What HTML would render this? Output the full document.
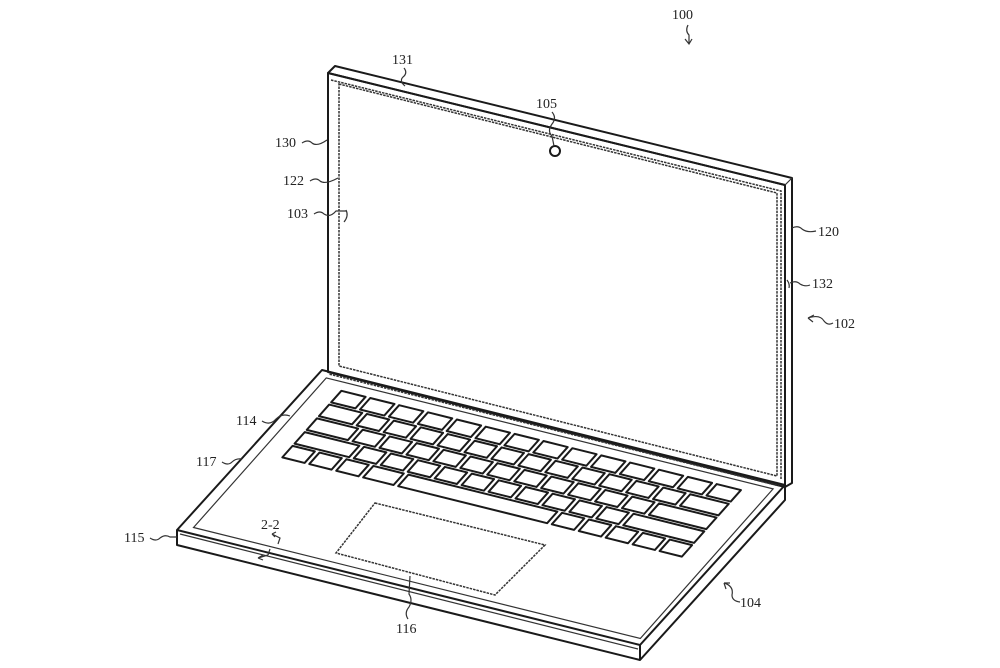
<!DOCTYPE html>
<html><head><meta charset="utf-8"><style>
html,body{margin:0;padding:0;background:#fff}
svg{display:block}
text{font-family:"Liberation Serif",serif;font-size:14px;fill:#222}
.l{fill:none;stroke:#1a1a1a;stroke-width:2;stroke-linejoin:round}
.k{fill:#fff;stroke:#1a1a1a;stroke-width:2;stroke-linejoin:round}
.t{fill:none;stroke:#333;stroke-width:1.2}
.d{fill:none;stroke:#333;stroke-width:1.5;stroke-dasharray:2.5 1}
.n{vector-effect:non-scaling-stroke}
</style></head><body>
<svg width="1000" height="668" viewBox="0 0 1000 668" xmlns="http://www.w3.org/2000/svg">
<!-- Lid -->
<polygon class="l" points="328,73 335,66 792,178 792,483 785,487 785,185"/>
<polygon class="l" points="328,73 785,185 785,487 328,372" fill="#fff"/>
<line class="t" x1="785" y1="185" x2="792" y2="178"/>
<!-- inner screen -->
<polygon class="d" points="339,84 777,193 777,476 339,366"/>
<polyline class="d" points="331,80 781,191 781,480"/>
<circle cx="555" cy="151" r="5" class="l" fill="#fff"/>

<!-- Base -->
<polygon class="l" fill="#fff" points="177,530 322,370 785,485 785,500 640,660 177,545"/>
<polyline class="l" points="177,530 640,645 785,485"/>
<line class="l" x1="640" y1="645" x2="640" y2="660"/>
<polyline class="t" points="180,534 638,649"/>
<g transform="matrix(463,115,-142,160,322,370)">
  <polygon class="t n" points="0.02,0.035 0.985,0.035 0.985,0.97 0.02,0.97"/>
  <polyline class="d n" points="0.02,0.012 0.99,0.012"/>
  <g id="kb"></g>
</g>
<!-- trackpad -->
<polygon class="d" points="375,503 545,545 495,595 336,553"/>

<!-- labels -->
<text x="672" y="19">100</text>
<path class="t" d="M688,25 q-3,6 1,10 l0,8 M685,39 l4,5 l3,-5"/>
<text x="392" y="64">131</text>
<path class="t" d="M404,68 q4,5 -1,9 q-4,4 2,9"/>
<text x="536" y="108">105</text>
<path class="t" d="M552,112 q5,6 0,12 q-5,7 0,12 l2,10"/>
<text x="275" y="147">130</text>
<path class="t" d="M302,143 q6,-4 10,0 q5,4 15,-3"/>
<text x="283" y="185">122</text>
<path class="t" d="M310,181 q6,-4 10,0 q5,4 18,-3"/>
<text x="287" y="218">103</text>
<path class="t" d="M314,214 q6,-4 10,0 q6,4 12,-3 l10,0 M346,210 q3,6 -2,12"/>
<text x="818" y="236">120</text>
<path class="t" d="M792,228 q6,-3 10,1 q5,4 14,2"/>
<text x="812" y="288">132</text>
<path class="t" d="M787,280 q3,4 2,8 M790,283 q6,-3 10,1 q5,3 10,1"/>
<text x="834" y="328">102</text>
<path class="t" d="M808,318 q12,-4 16,3 q4,5 9,2 M808,318 l6,-3 M808,318 l5,4"/>
<text x="236" y="425">114</text>
<path class="t" d="M262,421 q8,5 14,-2 q6,-6 14,-3"/>
<text x="196" y="466">117</text>
<path class="t" d="M222,462 q6,4 10,0 q4,-4 10,-3"/>
<text x="124" y="542">115</text>
<path class="t" d="M150,538 q6,4 10,0 q5,-4 10,-1 l7,0"/>
<text x="261" y="529">2-2</text>
<path class="t" d="M272,534 l8,4 l-2,6 M272,534 l4,-2 M272,534 l3,3"/>
<path class="t" d="M268,555 l-10,3 M258,558 l5,-3 M258,558 l5,2 M268,555 l2,-6"/>
<text x="396" y="633">116</text>
<path class="t" d="M408,619 q-4,-6 1,-12 q4,-7 0,-13 l1,-18"/>
<text x="740" y="607">104</text>
<path class="t" d="M724,583 q10,3 8,12 q0,6 8,7 M724,583 l6,0 M724,583 l2,6"/>
</svg>
<script>
(function(){
var g=document.getElementById('kb');var ns='http://www.w3.org/2000/svg';
var s0=0.062,s1=0.935,t0=0.075,t1=0.505,rows=5;
var P=(s1-s0)/14, R=(t1-t0)/rows, gs=0.010, gt=0.014;
var layout=[
 [1,1,1,1,1,1,1,1,1,1,1,1,1,1],
 [1.4,1,1,1,1,1,1,1,1,1,1,1,1,1.6],
 [1.7,1,1,1,1,1,1,1,1,1,1,1,2.3],
 [2.2,1,1,1,1,1,1,1,1,1,1,2.8],
 [1,1,1,1.3,5.7,1,1,1,1,1]];
for(var r=0;r<rows;r++){var s=s0,t=t0+r*R,row=layout[r],tot=0;
 row.forEach(function(w){tot+=w});var k=14/tot;
 row.forEach(function(w){var ww=w*k*P;
  var p=document.createElementNS(ns,'polygon');
  var a=s+gs/2,b=s+ww-gs/2,c=t+gt/2,d=t+R-gt/2;
  p.setAttribute('points',a+','+c+' '+b+','+c+' '+b+','+d+' '+a+','+d);
  p.setAttribute('class','k n');g.appendChild(p);s+=ww;});}
})();
</script>
</body></html>
